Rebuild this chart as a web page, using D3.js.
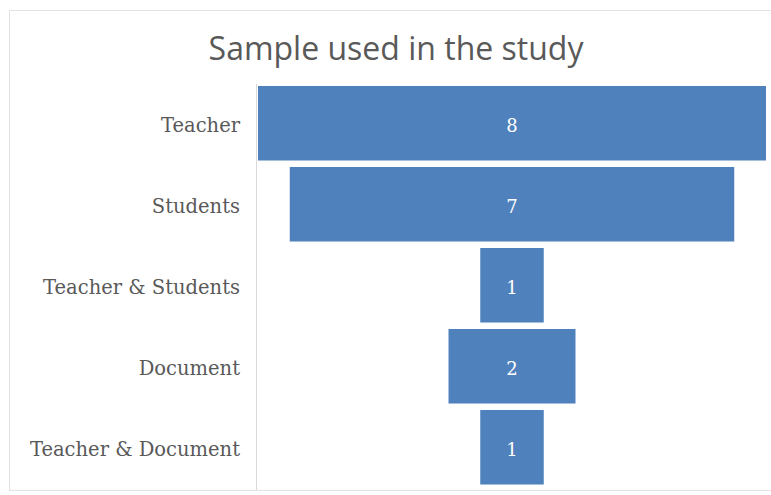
<!DOCTYPE html>
<html lang="en">
<head>
  <meta charset="UTF-8">
  <title>Sample used in the study</title>
  <style>
    body { margin: 0; background: #fff; }
    svg { display: block; }
    .title { font-family: 'Open Sans', sans-serif; font-size: 32px; fill: #595959; text-anchor: middle; }
    .cat { font-family: 'DejaVu Serif', serif; font-size: 19.5px; fill: #595959; text-anchor: end; }
    .val { font-family: 'DejaVu Serif', serif; font-size: 18px; fill: #fff; text-anchor: middle; }
  </style>
</head>
<body>
  <svg width="771" height="495"></svg>

  <script src="https://d3js.org/d3.v7.min.js"></script>
  <script>
    var categories = ["Teacher", "Students", "Teacher & Students", "Document", "Teacher & Document"];
    var values = [8, 7, 1, 2, 1];

    var svg = d3.select("svg");
    var cx = 512;

    // chart frame
    svg.append("rect")
      .attr("x", 9.5).attr("y", 10.5)
      .attr("width", 780).attr("height", 480)
      .attr("fill", "none")
      .attr("stroke", "#e3e3e3");

    svg.append("text")
      .attr("class", "title")
      .attr("x", 396).attr("y", 60)
      .text("Sample used in the study");

    var y = d3.scaleBand()
      .domain(categories)
      .range([79.5, 491])
      .padding(0.08);

    var x = d3.scaleLinear()
      .domain([0, 8])
      .range([0, 508]);

    // vertical axis line
    svg.append("line")
      .attr("x1", 256.5).attr("x2", 256.5)
      .attr("y1", 84).attr("y2", 490)
      .attr("stroke", "#d9d9d9");

    var rows = categories.map(function(c, i) { return { cat: c, v: values[i] }; });

    svg.selectAll("rect.bar")
      .data(rows)
      .enter().append("rect")
        .attr("class", "bar")
        .attr("x", function(d) { return cx - x(d.v) / 2; })
        .attr("y", function(d) { return y(d.cat); })
        .attr("width", function(d) { return x(d.v); })
        .attr("height", y.bandwidth())
        .attr("fill", "#4f81bd");

    svg.selectAll("text.val")
      .data(rows)
      .enter().append("text")
        .attr("class", "val")
        .attr("x", cx)
        .attr("y", function(d) { return y(d.cat) + y.bandwidth() / 2 + 9; })
        .text(function(d) { return d.v; });

    svg.selectAll("text.cat")
      .data(rows)
      .enter().append("text")
        .attr("class", "cat")
        .attr("x", 240)
        .attr("y", function(d) { return y(d.cat) + y.bandwidth() / 2 + 9; })
        .text(function(d) { return d.cat; });
  </script>
</body>
</html>
